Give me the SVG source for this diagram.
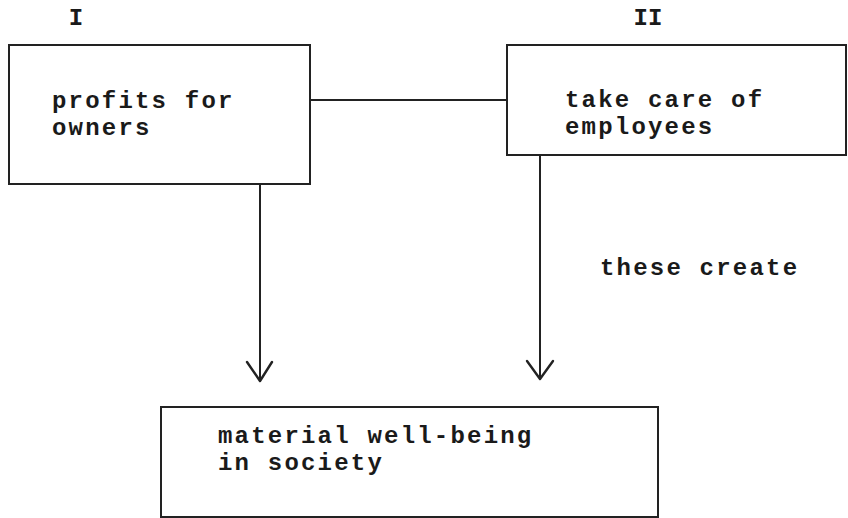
<svg xmlns="http://www.w3.org/2000/svg" width="848" height="518" viewBox="0 0 848 518">
  <defs>
    <style>
      .box { fill: none; stroke: #222; stroke-width: 2; }
      .line { fill: none; stroke: #222; stroke-width: 2; }
      .head { fill: none; stroke: #222; stroke-width: 2.4; stroke-linecap: round; stroke-linejoin: round; }
      .txt { font-family: "Liberation Mono", "DejaVu Sans Mono", monospace; font-weight: bold; font-size: 24px; letter-spacing: 2.2px; fill: #1a1a1a; }
      .lbl { font-family: "Liberation Mono", "DejaVu Sans Mono", monospace; font-weight: bold; font-size: 24px; fill: #1a1a1a; }
    </style>
  </defs>
  <rect width="848" height="518" fill="#ffffff"/>

  <!-- connectors -->
  <g id="connectors">
    <line class="line" x1="310" y1="100" x2="507" y2="100"/>
    <line class="line" x1="260" y1="184" x2="260" y2="381"/>
    <polyline class="head" points="247,362 260,381 272,362"/>
    <line class="line" x1="540" y1="155" x2="540" y2="379"/>
    <polyline class="head" points="527,361 540,379 553,361"/>
    <text class="txt" x="600" y="275">these create</text>
  </g>

  <g id="node-profits">
    <text class="lbl" x="76" y="25" text-anchor="middle">I</text>
    <rect class="box" x="9" y="45" width="301" height="139"/>
    <text class="txt" x="52" y="108">profits for</text>
    <text class="txt" x="52" y="135">owners</text>
  </g>

  <g id="node-employees">
    <text class="lbl" x="648" y="25" text-anchor="middle">II</text>
    <rect class="box" x="507" y="45" width="339" height="110"/>
    <text class="txt" x="565" y="107">take care of</text>
    <text class="txt" x="565" y="134">employees</text>
  </g>

  <g id="node-wellbeing">
    <rect class="box" x="161" y="407" width="497" height="110"/>
    <text class="txt" x="218" y="443">material well-being</text>
    <text class="txt" x="218" y="470">in society</text>
  </g>
</svg>
